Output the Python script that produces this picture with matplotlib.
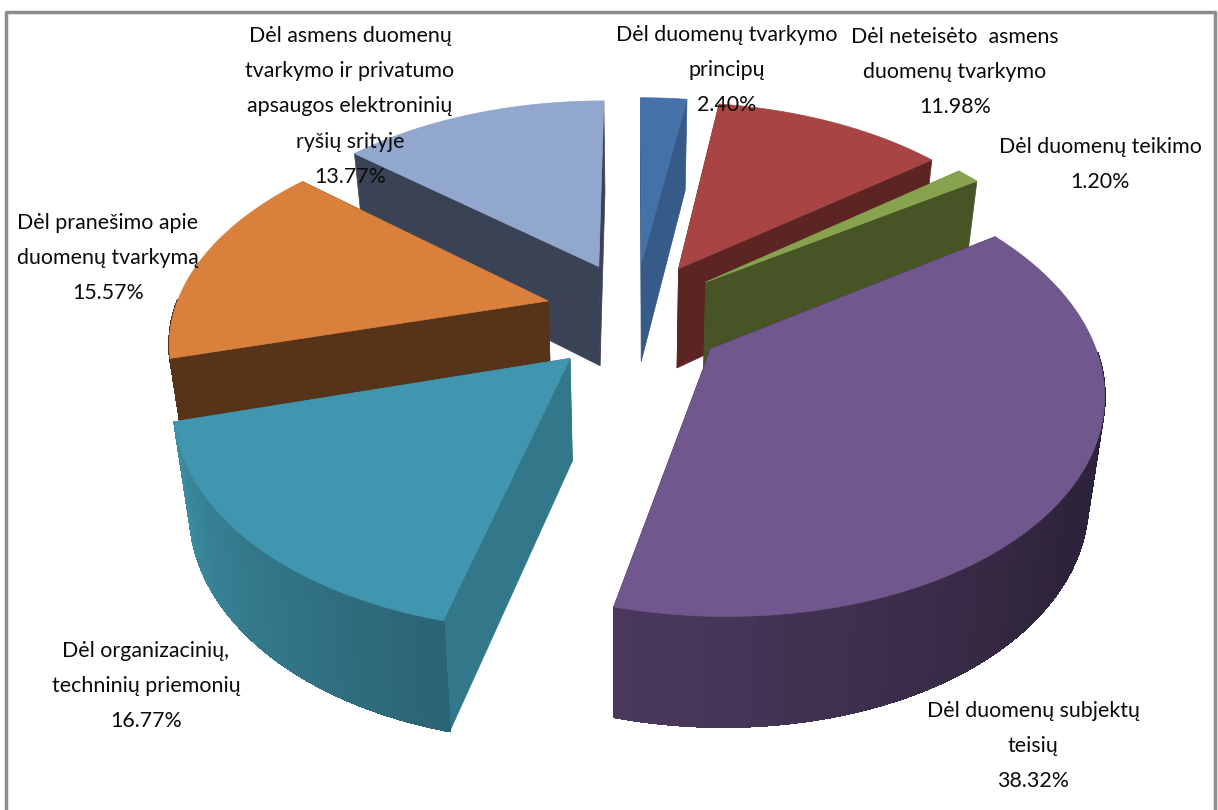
"""3D exploded pie of complaint categories, drawn from the shares."""

import matplotlib
matplotlib.use("Agg")
import matplotlib.pyplot as plt
import matplotlib.patches as mpatches
import numpy as np

plt.rcParams["font.family"] = ["Lato", "DejaVu Sans"]

shares = [2.40, 11.98, 1.20, 38.32, 16.77, 15.57, 13.77]
labels = [
    "Dėl duomenų tvarkymo\nprincipų",
    "Dėl neteisėto  asmens\nduomenų tvarkymo",
    "Dėl duomenų teikimo",
    "Dėl duomenų subjektų\nteisių",
    "Dėl organizacinių,\ntechninių priemonių",
    "Dėl pranešimo apie\nduomenų tvarkymą",
    "Dėl asmens duomenų\ntvarkymo ir privatumo\napsaugos elektroninių\nryšių srityje",
]
top_colors = ["#4472a8", "#a84544", "#87a34e", "#70578d", "#4096ae", "#d9803c", "#92a7cd"]
wall_colors = ["#365b88", "#5c2524", "#465426", "#2c2239", "#33788a", "#57331a", "#3a4356"]
# rim shading, in clockwise order along each slice
rim_start = ["#365b88", "#5c2524", "#465426", "#2b2139", "#2b6473", "#57331a", "#3a4356"]
rim_mid = ["#365b88", "#5c2524", "#465426", "#2d233a", "#33788a", "#57331a", "#3a4356"]
rim_end = ["#365b88", "#5c2524", "#465426", "#4b395d", "#3c8ca2", "#57331a", "#3a4356"]
# back-to-front drawing order
draw_order = [0, 6, 1, 2, 5, 4, 3]

label_xy = [(727, 25), (955, 27), (1100, 137), (1033, 701), (146, 641), (108, 213), (350, 26)]

CX, CY, R = 635, 312, 374
SQUASH, PERSP, DEPTH = 0.556, 0.17, 101
TAPER = 0.035
EXPLODE_X, EXPLODE_FRONT, EXPLODE_BACK = 0.24, 0.30, 0.25


def project(u, v, lift=0.0):
    p = 1 / (1 - PERSP * v)
    x = CX + R * u * p * (1 - TAPER * lift)
    return x, CY + R * SQUASH * v * p + DEPTH * lift * (1 + 0.08 * v)


def shade(frac, c0, c1, c2):
    c0, c1, c2 = [np.array(matplotlib.colors.to_rgb(c)) for c in (c0, c1, c2)]
    if frac < 0.5:
        return c0 + (c1 - c0) * frac * 2
    return c1 + (c2 - c1) * (frac - 0.5) * 2


fig, ax = plt.subplots(figsize=(12.18, 8.10), dpi=100)
ax.set_position([0, 0, 1, 1])
ax.set_xlim(0, 1218)
ax.set_ylim(810, 0)
ax.axis("off")

# frame, open at the bottom edge
ax.plot([6, 6, 1215, 1215], [812, 12, 12, 812], color="#8c8c8c", lw=2.5)

edges = np.cumsum([0] + shares) / sum(shares) * 2 * np.pi

for i in draw_order:
    a0, a1 = edges[i], edges[i + 1]
    mid = (a0 + a1) / 2
    ey = EXPLODE_FRONT if np.cos(mid) < 0 else EXPLODE_BACK
    au, av = EXPLODE_X * np.sin(mid), -ey * np.cos(mid)
    ang = np.linspace(a0, a1, 120)
    ru, rv = au + np.sin(ang), av - np.cos(ang)

    # radial walls, the one further back first
    walls = sorted([0, -1], key=lambda k: rv[k])
    for k in walls:
        pts = [project(au, av), project(ru[k], rv[k]),
               project(ru[k], rv[k], 1), project(au, av, 1)]
        ax.add_patch(mpatches.Polygon(pts, closed=True, fc=wall_colors[i],
                                      ec=wall_colors[i], lw=0.5))

    # outer rim as shaded quads
    for j in range(len(ang) - 1):
        if rv[j] < av:
            continue
        col = shade(j / (len(ang) - 2), rim_start[i], rim_mid[i], rim_end[i])
        pts = [project(ru[j], rv[j]), project(ru[j + 1], rv[j + 1]),
               project(ru[j + 1], rv[j + 1], 1), project(ru[j], rv[j], 1)]
        ax.add_patch(mpatches.Polygon(pts, closed=True, fc=col, ec=col, lw=1,
                                      antialiased=False))

    top = [project(au, av)] + [project(u, v) for u, v in zip(ru, rv)]
    ax.add_patch(mpatches.Polygon(top, closed=True, fc=top_colors[i],
                                  ec=top_colors[i], lw=0.5))

for lab, share, (x, y) in zip(labels, shares, label_xy):
    ax.text(x, y, f"{lab}\n{share:.2f}%", ha="center", va="top", fontsize=15.4,
            color="#0a0a0a", linespacing=1.95, zorder=10)

fig.savefig("out.png", dpi=100)
plt.close(fig)
